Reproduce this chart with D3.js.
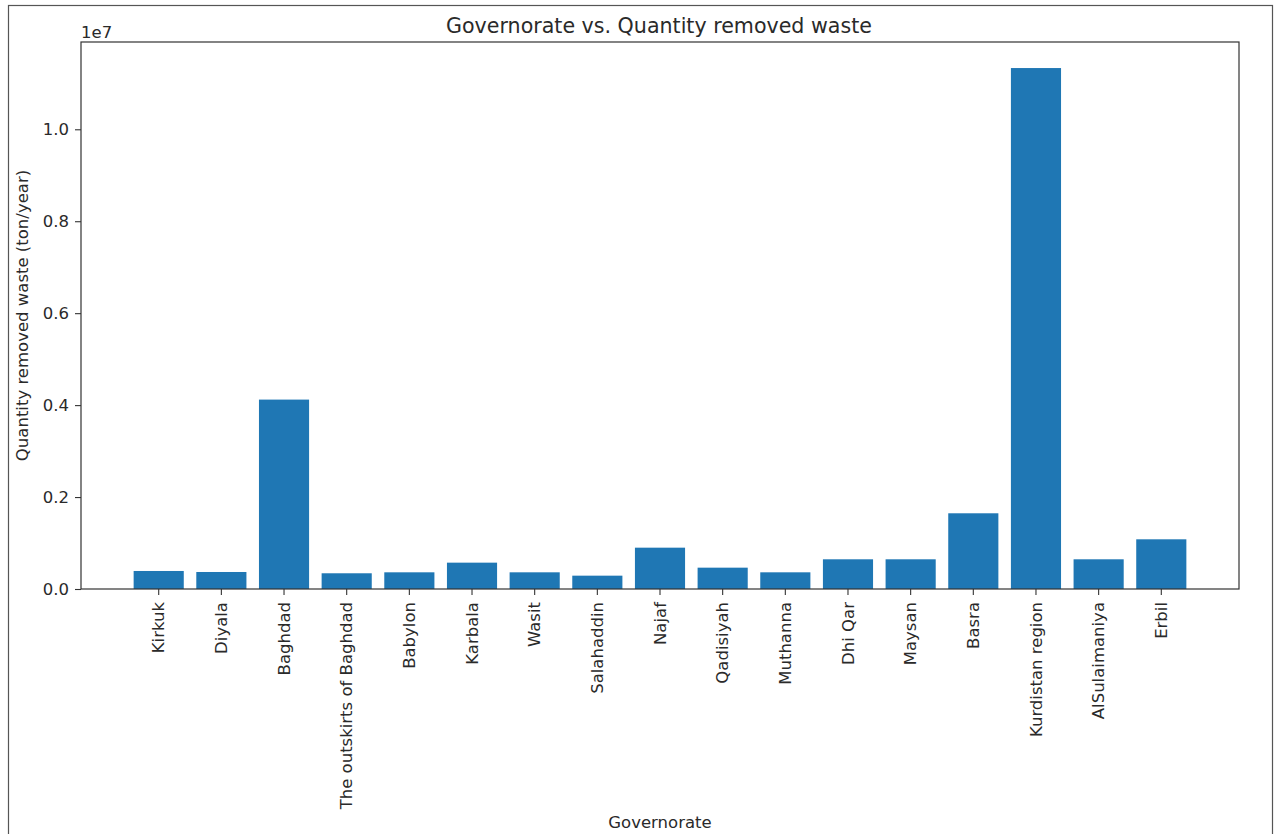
<!DOCTYPE html>
<html>
<head>
<meta charset="utf-8">
<script src="https://cdn.jsdelivr.net/npm/d3@7"></script>
<style>
  html, body { margin: 0; padding: 0; background: #fff; }
  svg { display: block; }
  text { font-family: "DejaVu Sans", sans-serif; fill: #2a2a2a; }
</style>
</head>
<body>
<svg id="chart" width="1280" height="834"></svg>
<script>
const categories = ["Kirkuk", "Diyala", "Baghdad", "The outskirts of Baghdad", "Babylon", "Karbala", "Wasit", "Salahaddin", "Najaf", "Qadisiyah", "Muthanna", "Dhi Qar", "Maysan", "Basra", "Kurdistan region", "AlSulaimaniya", "Erbil"];
const values = [392000, 370000, 4120000, 342000, 363000, 573000, 363000, 290000, 899000, 464000, 363000, 646000, 646000, 1647000, 11332000, 646000, 1081000];
const yTicks = [0, 2000000, 4000000, 6000000, 8000000, 10000000];
const titleText = "Governorate vs. Quantity removed waste";
const xLabel = "Governorate";
const yLabel = "Quantity removed waste (ton/year)";
const offsetText = "1e7";

const svg = d3.select("#chart");
const L = 81, R = 1239, T = 42, B = 589;

// figure frame
svg.append("rect").attr("x", 8.5).attr("y", 5.5).attr("width", 1264).attr("height", 840)
  .attr("fill", "none").attr("stroke", "#555").attr("stroke-width", 1.2);

const x = d3.scaleBand().domain(categories).range([L, R]).paddingInner(0.2).paddingOuter(0.84);
const ymax = d3.max(values) * 1.05;
const y = d3.scaleLinear().domain([0, ymax]).range([B, T]);

// bars
svg.append("g").selectAll("rect").data(categories).join("rect")
  .attr("x", d => x(d))
  .attr("width", x.bandwidth())
  .attr("y", (d, i) => y(values[i]))
  .attr("height", (d, i) => B - y(values[i]))
  .attr("fill", "#1f77b4");

// axes
const fs = 16.5;
const yAxis = svg.append("g").attr("transform", `translate(${L},0)`)
  .call(d3.axisLeft(y).tickValues(yTicks).tickFormat(d => (d / 1e7).toFixed(1)).tickSize(6).tickPadding(6));
yAxis.selectAll("text").style("font-size", fs + "px").attr("fill", "#2a2a2a");
const xAxis = svg.append("g").attr("transform", `translate(0,${B})`)
  .call(d3.axisBottom(x).tickSize(6).tickPadding(0));
xAxis.selectAll("text")
  .style("font-size", fs + "px")
  .attr("fill", "#2a2a2a")
  .attr("transform", "rotate(-90)")
  .attr("text-anchor", "end")
  .attr("x", -13)
  .attr("y", 0)
  .attr("dy", "0.35em");
svg.selectAll(".domain").remove();
svg.selectAll(".tick line").attr("stroke", "#333").attr("stroke-width", 1.1);

// spines
svg.append("rect").attr("x", L).attr("y", T).attr("width", R - L).attr("height", B - T)
  .attr("fill", "none").attr("stroke", "#333").attr("stroke-width", 1.2);

// title & labels
svg.append("text").attr("x", (L + R) / 2 - 1).attr("y", 33).attr("text-anchor", "middle")
  .style("font-size", "20.6px").text(titleText);
svg.append("text").attr("x", (L + R) / 2).attr("y", 828).attr("text-anchor", "middle")
  .style("font-size", fs + "px").text(xLabel);
svg.append("text").attr("transform", `translate(28,${(T + B) / 2}) rotate(-90)`).attr("text-anchor", "middle")
  .style("font-size", fs + "px").text(yLabel);
svg.append("text").attr("x", L).attr("y", 38).attr("text-anchor", "start")
  .style("font-size", fs + "px").text(offsetText);
</script>
</body>
</html>
